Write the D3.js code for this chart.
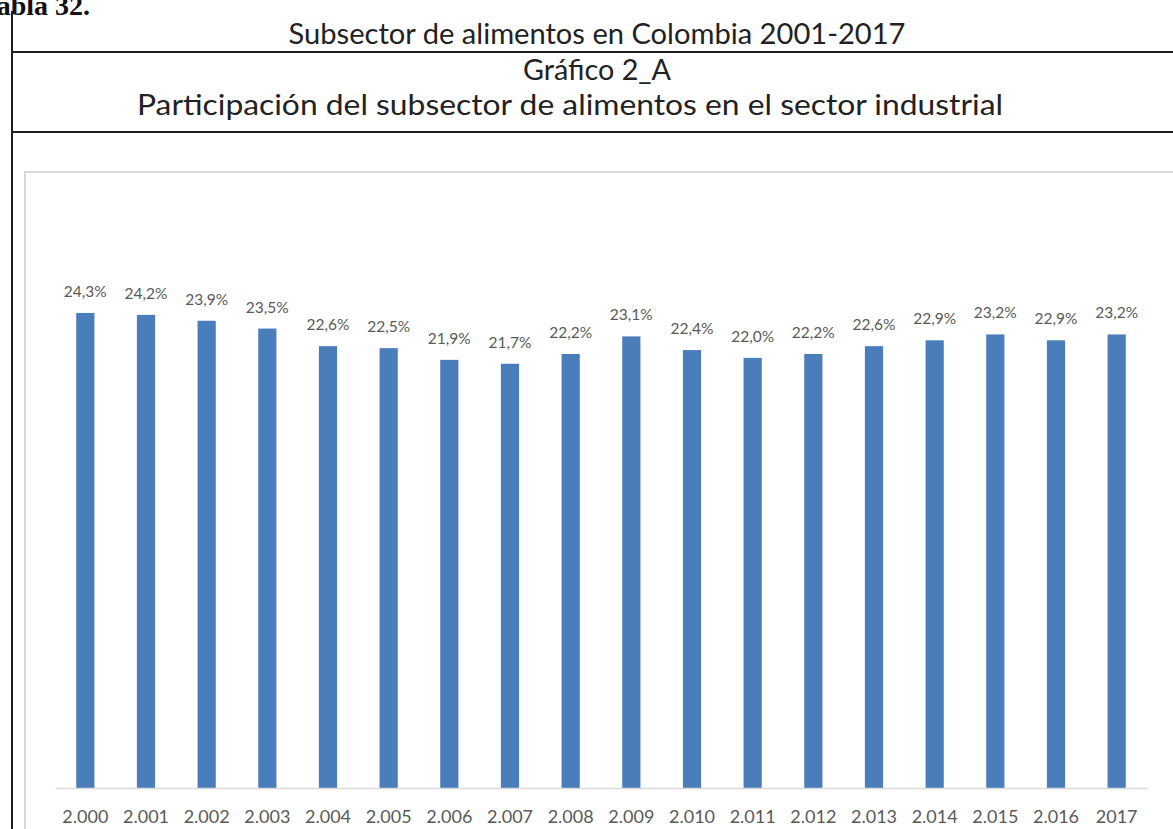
<!DOCTYPE html>
<html lang="es">
<head>
<meta charset="utf-8">
<script src="https://cdn.jsdelivr.net/npm/d3@7"></script>
<style>
  html, body { margin: 0; padding: 0; background: #fff; }
  svg { display: block; }
</style>
</head>
<body>
<svg id="chart" width="1173" height="829"></svg>
<script>
// Participación del subsector de alimentos en el sector industrial (%)
const years = ["2.000", "2.001", "2.002", "2.003", "2.004", "2.005", "2.006", "2.007", "2.008",
               "2.009", "2.010", "2.011", "2.012", "2.013", "2.014", "2.015", "2.016", "2017"];
const shares = [24.3, 24.2, 23.9, 23.5, 22.6, 22.5, 21.9, 21.7, 22.2,
                23.1, 22.4, 22.0, 22.2, 22.6, 22.9, 23.2, 22.9, 23.2];
const headerLines = [
  "Subsector de alimentos en Colombia 2001-2017",
  "Gráfico 2_A",
  "Participación del subsector de alimentos en el sector industrial"
];
const captionText = "Tabla 32.";

const W = 1173, H = 829;
const svg = d3.select("#chart");
const font = "Lato, 'Open Sans', sans-serif";

// Document caption (runs past the left and top edges of the page)
svg.append("text")
  .attr("x", 90).attr("y", 15)
  .attr("text-anchor", "end")
  .attr("font-family", "'Liberation Serif', 'Times New Roman', serif")
  .attr("font-weight", "bold")
  .attr("font-size", 28)
  .attr("fill", "#111")
  .text(captionText);

// Table rules
const rule = "#1e1e1e";
svg.append("line").attr("x1", 12).attr("x2", 12).attr("y1", 11).attr("y2", H)
  .attr("stroke", rule).attr("stroke-width", 2);
[52, 132].forEach(y => {
  svg.append("line").attr("x1", 12).attr("x2", W).attr("y1", y).attr("y2", y)
    .attr("stroke", rule).attr("stroke-width", 2);
});

// Header texts
const headerSpecs = [
  { x: 597, y: 44, w: 617 },
  { x: 597, y: 80, w: 148 },
  { x: 570, y: 115, w: 866 }
];
headerLines.forEach((t, i) => {
  const s = headerSpecs[i];
  svg.append("text")
    .attr("x", s.x).attr("y", s.y)
    .attr("text-anchor", "middle")
    .attr("font-family", font)
    .attr("font-size", 28.5)
    .attr("fill", "#222")
    .attr("textLength", s.w)
    .attr("lengthAdjust", "spacingAndGlyphs")
    .text(t);
});

// Chart area frame
svg.append("rect")
  .attr("x", 25).attr("y", 172)
  .attr("width", W - 25 + 10).attr("height", H - 172 + 10)
  .attr("fill", "#fff")
  .attr("stroke", "#d9d9d9").attr("stroke-width", 2);

// Scales
const x = d3.scaleBand()
  .domain(years)
  .range([55, 1147])
  .paddingInner(0.7)
  .paddingOuter(0.35);

const y = d3.scaleLinear()
  .domain([0, 30])
  .range([788, 788 - 30 * 19.55]);

// Bars
svg.append("g")
  .selectAll("rect")
  .data(years)
  .join("rect")
  .attr("x", d => x(d))
  .attr("width", x.bandwidth())
  .attr("y", (d, i) => y(shares[i]))
  .attr("height", (d, i) => y(0) - y(shares[i]))
  .attr("fill", "#4a7ebb");

// Category axis
const xAxis = svg.append("g")
  .attr("transform", `translate(0,${y(0)})`)
  .call(d3.axisBottom(x).tickSize(0).tickPadding(35));
xAxis.select(".domain").attr("stroke", "#d9d9d9").attr("stroke-width", 1.5);
xAxis.selectAll("text")
  .attr("font-family", font)
  .attr("font-size", 18)
  .attr("fill", "#595959")
  .attr("dy", null)
  .attr("y", 35);

// Value labels
const fmt = v => d3.format(".1f")(v).replace(".", ",") + "%";
svg.append("g")
  .selectAll("text")
  .data(years)
  .join("text")
  .attr("x", d => x(d) + x.bandwidth() / 2)
  .attr("y", (d, i) => y(shares[i]) - 16)
  .attr("text-anchor", "middle")
  .attr("font-family", font)
  .attr("font-size", 15.5)
  .attr("fill", "#595959")
  .text((d, i) => fmt(shares[i]));
</script>
</body>
</html>
